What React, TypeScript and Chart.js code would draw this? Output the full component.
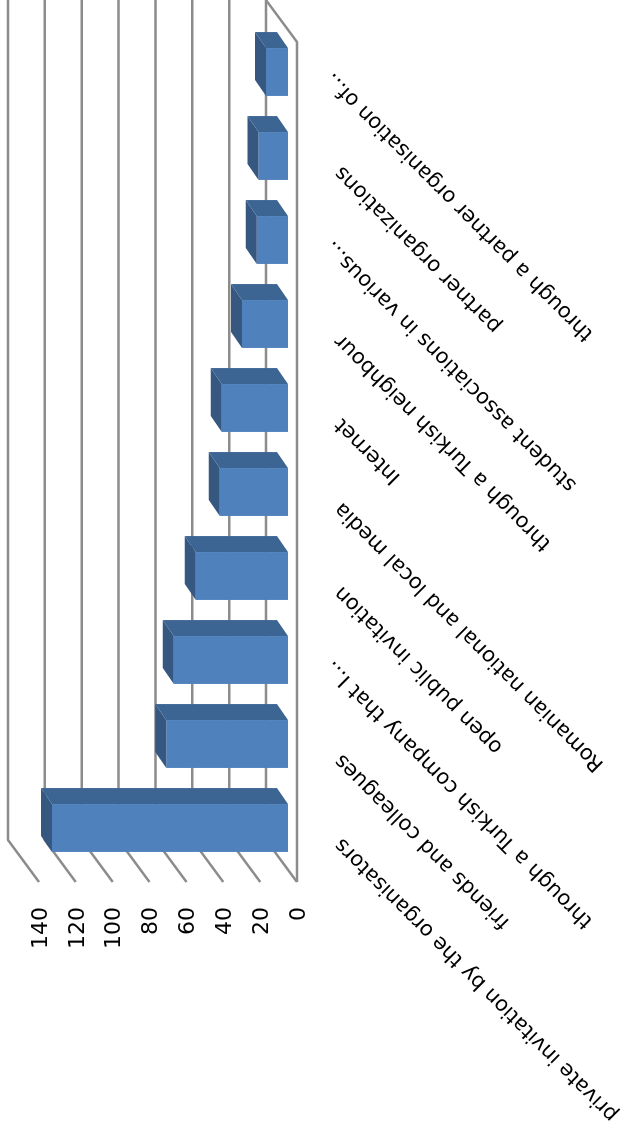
import React, { useEffect, useRef } from "react";
import { Chart, registerables } from "chart.js";

Chart.register(...registerables);

const categories = [
  "private invitation by the organisators",
  "friends and colleagues",
  "through a Turkish company that I...",
  "open public invitation",
  "Romanian national and local media",
  "Internet",
  "through a Turkish neighbour",
  "student associations in various...",
  "partner organizations",
  "through a partner organisation of...",
];
const counts = [128, 66, 62, 50, 37, 36, 25, 17, 16, 12];
const tickValues = [0, 20, 40, 60, 80, 100, 120, 140];

const BACK = { du: 30, dv: -22 };
const FRONT = { du: -12, dv: 9 };
const BAR = { du: 16, dv: -11 };
const LINE = "#8c8c8c";

const walls = {
  id: "walls",
  beforeDatasetsDraw(chart: any) {
    const { ctx, chartArea, scales } = chart;
    const y = scales.y;
    ctx.save();
    ctx.strokeStyle = LINE;
    ctx.lineWidth = 2.5;
    ctx.lineJoin = "round";
    for (const t of tickValues) {
      const p = y.getPixelForValue(t);
      ctx.beginPath();
      ctx.moveTo(chartArea.left + FRONT.du, p + FRONT.dv);
      ctx.lineTo(chartArea.left + BACK.du, p + BACK.dv);
      ctx.lineTo(chartArea.right + BACK.du, p + BACK.dv);
      ctx.stroke();
    }
    const z = y.getPixelForValue(0);
    ctx.beginPath();
    ctx.moveTo(chartArea.left + FRONT.du, z + FRONT.dv);
    ctx.lineTo(chartArea.right + FRONT.du, z + FRONT.dv);
    ctx.lineTo(chartArea.right + BACK.du, z + BACK.dv);
    ctx.stroke();
    ctx.restore();
  },
};

const bars3d = {
  id: "bars3d",
  afterDatasetsDraw(chart: any) {
    const { ctx } = chart;
    const meta = chart.getDatasetMeta(0);
    ctx.save();
    for (const bar of meta.data) {
      const { x, y, base, width } = bar.getProps(["x", "y", "base", "width"], true);
      const l = x - width / 2;
      const r = x + width / 2;
      ctx.fillStyle = "#355780";
      ctx.beginPath();
      ctx.moveTo(l, y);
      ctx.lineTo(l + BAR.du, y + BAR.dv);
      ctx.lineTo(r + BAR.du, y + BAR.dv);
      ctx.lineTo(r, y);
      ctx.closePath();
      ctx.fill();
      ctx.fillStyle = "#3c6593";
      ctx.beginPath();
      ctx.moveTo(r, y);
      ctx.lineTo(r + BAR.du, y + BAR.dv);
      ctx.lineTo(r + BAR.du, base + BAR.dv);
      ctx.lineTo(r, base);
      ctx.closePath();
      ctx.fill();
    }
    ctx.restore();
  },
};

export default function App() {
  const ref = useRef<HTMLCanvasElement | null>(null);
  useEffect(() => {
    document.body.style.margin = "0";
    document.body.style.overflow = "hidden";
    const chart = new Chart(ref.current as HTMLCanvasElement, {
      type: "bar",
      data: {
        labels: categories,
        datasets: [
          {
            data: counts,
            backgroundColor: "#4f81bd",
            barPercentage: 0.57,
            categoryPercentage: 1,
          },
        ],
      },
      options: {
        responsive: false,
        animation: false,
        layout: { padding: { top: 30, right: 30, left: 0, bottom: 0 } },
        plugins: { legend: { display: false }, tooltip: { enabled: false } },
        scales: {
          x: {
            grid: { display: false },
            border: { display: false },
            afterFit(scale: any) {
              scale.height = 339;
              scale.paddingLeft = 0;
              scale.paddingRight = 0;
            },
            ticks: {
              autoSkip: false,
              minRotation: 45,
              maxRotation: 45,
              padding: 24,
              labelOffset: -4,
              color: "#000000",
              font: { family: "DejaVu Sans", size: 21 },
              callback(_v: any, i: number) {
                const label = categories[i];
                return label.endsWith("...") ? label : label + "  ";
              },
            },
          },
          y: {
            min: 0,
            max: 140,
            grid: { display: false },
            border: { display: false },
            afterFit(scale: any) {
              scale.width = 261;
              scale.paddingTop = 0;
              scale.paddingBottom = 0;
            },
            ticks: {
              stepSize: 20,
              padding: 29,
              labelOffset: 11,
              color: "#000000",
              font: { family: "DejaVu Sans", size: 22 },
            },
          },
        },
      },
      plugins: [walls, bars3d],
    } as any);
    return () => chart.destroy();
  }, []);
  return (
    <div
      style={{
        position: "absolute",
        left: 0,
        top: 1131,
        width: 1131,
        height: 627,
        transformOrigin: "0 0",
        transform: "rotate(-90deg)",
      }}
    >
      <canvas ref={ref} width={1131} height={627} style={{ display: "block" }} />
    </div>
  );
}
